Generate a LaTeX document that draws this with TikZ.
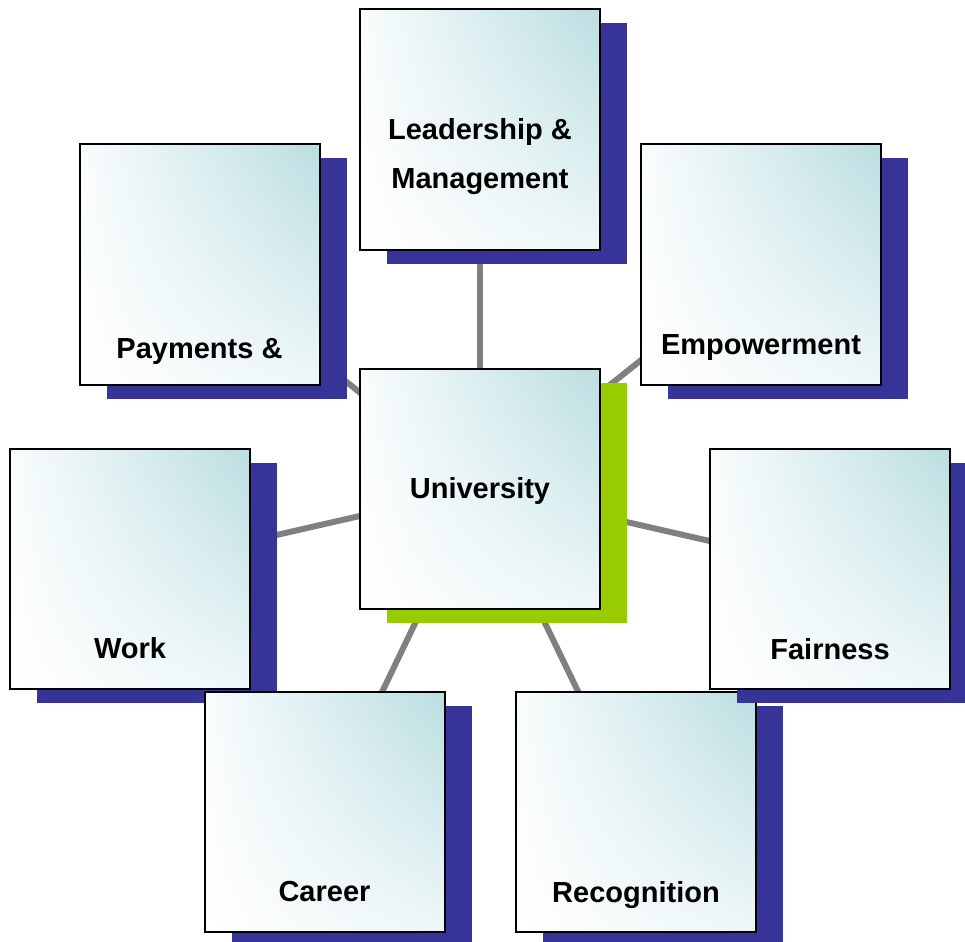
\documentclass[tikz,border=0pt]{standalone}
\usepackage{fontspec}
\setmainfont{Liberation Sans}
\usetikzlibrary{shadows,shadings,backgrounds}

\definecolor{cardteal}{RGB}{186,222,225}
\definecolor{shadowblue}{RGB}{54,51,153}
\definecolor{shadowgreen}{RGB}{153,204,0}

\begin{document}
\begin{tikzpicture}[
        x=1pt, y=-1pt,
        card/.style = {rectangle, draw=black, line width=2pt, minimum size=240pt, inner sep=0pt,
            upper right=cardteal, upper left=cardteal!8, lower left=white, lower right=cardteal!25,
            drop shadow={shadow xshift=27pt, shadow yshift=-14pt, fill=#1, opacity=1},
            node contents={}},
        card/.default = shadowblue,
        lbl/.style = {font=\fontsize{29}{49}\selectfont\bfseries, align=center, inner sep=0pt},
        spoke/.style = {line width=6pt, draw=gray}
        ]

        \useasboundingbox (0,0) rectangle (965,941);

        \node (lead) at (480,129.5)   [card, label={[lbl, yshift=-27]center:Leadership \&\\Management}];
        \node (pay) at (199.5,264.5)  [card, label={[lbl, yshift=-87]center:Payments \&}];
        \node (emp) at (761,264.5)    [card, label={[lbl, yshift=-83]center:Empowerment}];
        \node (univ) at (480,488.5)   [card=shadowgreen, label={[lbl, yshift=-2]center:University}];
        \node (work) at (130,568.5)   [card, label={[lbl, yshift=-80]center:Work}];
        \node (career) at (324.5,811.5) [card, label={[lbl, yshift=-80]center:Career}];
        \node (recog) at (636,811.5)  [card, label={[lbl, yshift=-84]center:Recognition}];
        \node (fair) at (830,568.5)   [card, label={[lbl, yshift=-81]center:Fairness}];

        % spokes behind the cards
        \begin{scope}[on background layer]
            \draw[spoke] (univ.center) -- (lead.center);
            \draw[spoke] (univ.center) -- (pay.center);
            \draw[spoke] (univ.center) -- (emp.center);
            \draw[spoke] (univ.center) -- (work.center);
            \draw[spoke] (univ.center) -- (fair.center);
            \draw[spoke] (univ.center) -- (career.center);
            \draw[spoke] (univ.center) -- (recog.center);
        \end{scope}

    \end{tikzpicture}
\end{document}
